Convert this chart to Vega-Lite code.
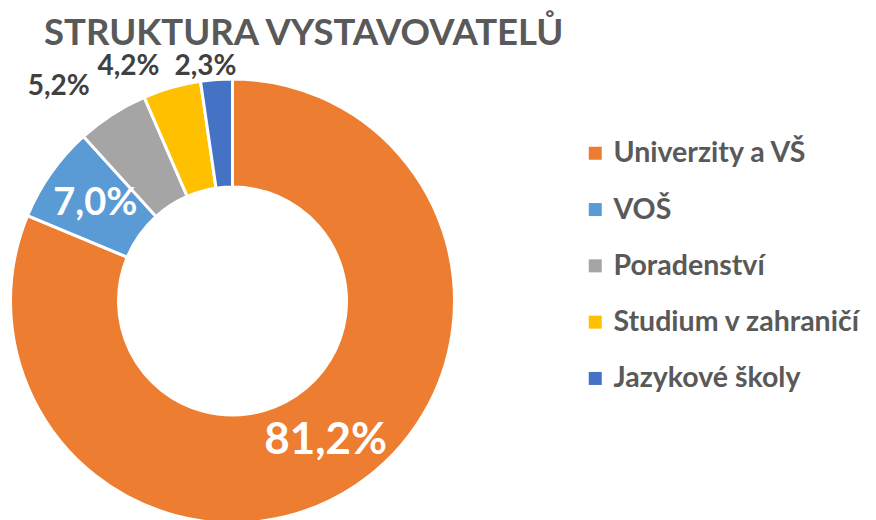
{
  "$schema": "https://vega.github.io/schema/vega-lite/v6.json",
  "width": 465,
  "height": 482,
  "autosize": "none",
  "padding": {"top": 60, "left": 0, "right": 411, "bottom": 0},
  "background": "white",
  "title": {
    "text": "STRUKTURA VYSTAVOVATELŮ",
    "anchor": "start",
    "frame": "group",
    "dx": 44,
    "dy": 32,
    "offset": 12,
    "limit": 0,
    "font": "Lato",
    "fontSize": 36.5,
    "fontWeight": "bold",
    "color": "#595959"
  },
  "data": {
    "values": [
      {"cat": "Univerzity a VŠ", "value": 81.2, "label": "81,2%", "order": 1},
      {"cat": "VOŠ", "value": 7.0, "label": "7,0%", "order": 2},
      {"cat": "Poradenství", "value": 5.2, "label": "5,2%", "order": 3},
      {"cat": "Studium v zahraničí", "value": 4.2, "label": "4,2%", "order": 4},
      {"cat": "Jazykové školy", "value": 2.3, "label": "2,3%", "order": 5}
    ]
  },
  "encoding": {
    "theta": {"field": "value", "type": "quantitative", "stack": true},
    "order": {"field": "order", "type": "quantitative"}
  },
  "layer": [
    {
      "mark": {"type": "arc", "outerRadius": 222, "innerRadius": 114, "stroke": "white", "strokeWidth": 3},
      "encoding": {
        "color": {
          "field": "cat",
          "type": "nominal",
          "scale": {
            "domain": ["Univerzity a VŠ", "VOŠ", "Poradenství", "Studium v zahraničí", "Jazykové školy"],
            "range": ["#ED7D31", "#5B9BD5", "#A5A5A5", "#FFC000", "#4472C4"]
          },
          "legend": {
            "title": null,
            "orient": "none",
            "legendX": 581,
            "legendY": 79,
            "symbolType": "square",
            "symbolSize": 169,
            "symbolStrokeWidth": 0,
            "labelFont": "Lato",
            "labelFontSize": 28.5,
            "labelFontWeight": "bold",
            "labelColor": "#595959",
            "labelOffset": 4,
            "rowPadding": 27.3,
            "padding": 0,
            "labelLimit": 400
          }
        }
      }
    },
    {
      "mark": {"type": "text", "radius": 168, "font": "Lato", "fontSize": 44, "fontWeight": "bold", "color": "white"},
      "encoding": {
        "text": {"condition": {"test": "datum.cat === 'Univerzity a VŠ'", "field": "label"}, "value": ""}
      }
    },
    {
      "mark": {"type": "text", "radius": 168, "font": "Lato", "fontSize": 38, "fontWeight": "bold", "color": "white"},
      "encoding": {
        "text": {"condition": {"test": "datum.cat === 'VOŠ'", "field": "label"}, "value": ""}
      }
    },
    {
      "mark": {"type": "text", "radius": 260, "dx": -33, "dy": 5, "font": "Lato", "fontSize": 28, "fontWeight": "bold", "color": "#404040"},
      "encoding": {
        "text": {"condition": {"test": "datum.cat === 'Poradenství'", "field": "label"}, "value": ""}
      }
    },
    {
      "mark": {"type": "text", "radius": 245, "dx": -37, "dy": 2, "font": "Lato", "fontSize": 28, "fontWeight": "bold", "color": "#404040"},
      "encoding": {
        "text": {"condition": {"test": "datum.cat === 'Studium v zahraničí'", "field": "label"}, "value": ""}
      }
    },
    {
      "mark": {"type": "text", "radius": 237, "dx": -10, "dy": 2, "font": "Lato", "fontSize": 28, "fontWeight": "bold", "color": "#404040"},
      "encoding": {
        "text": {"condition": {"test": "datum.cat === 'Jazykové školy'", "field": "label"}, "value": ""}
      }
    }
  ]
}
